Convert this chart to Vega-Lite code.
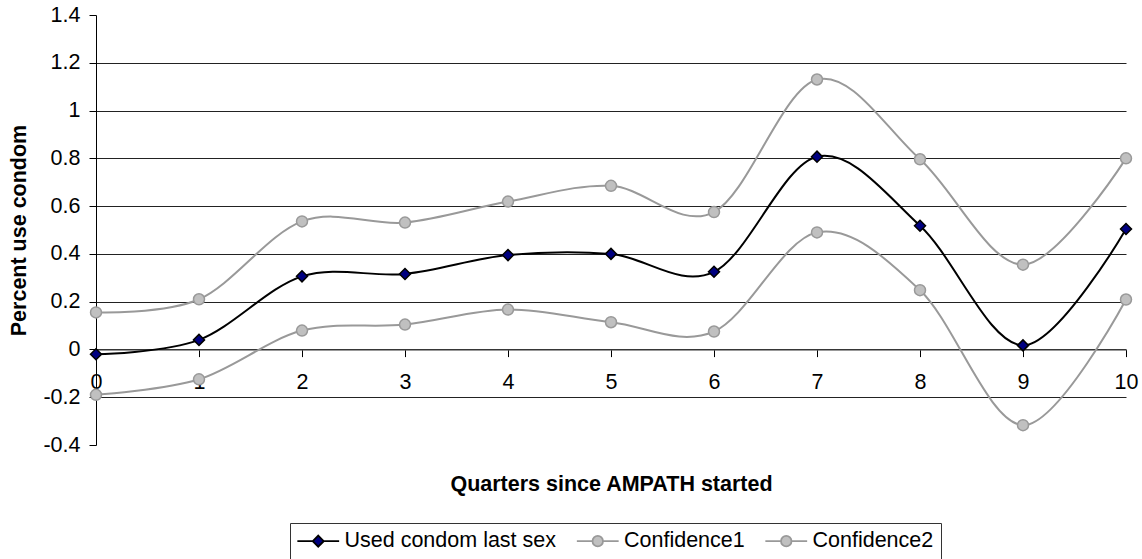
{
  "$schema": "https://vega.github.io/schema/vega-lite/v6.json",
  "width": 1030,
  "height": 430,
  "autosize": "none",
  "padding": {"left": 96, "top": 15, "right": 16, "bottom": 114},
  "background": "white",
  "config": {
    "view": {"stroke": null},
    "font": "Liberation Sans",
    "axis": {
      "labelFont": "Liberation Sans",
      "titleFont": "Liberation Sans",
      "labelFontSize": 21.5,
      "titleFontSize": 21.5,
      "labelColor": "#000",
      "titleColor": "#000",
      "titleFontWeight": "bold",
      "labelFlush": false,
      "labelOverlap": false
    },
    "legend": {
      "labelFont": "Liberation Sans",
      "labelFontSize": 21.5,
      "labelColor": "#000",
      "labelLimit": 500,
      "orient": "none",
      "direction": "horizontal",
      "legendX": 194,
      "legendY": 508,
      "padding": 7,
      "strokeColor": "#333",
      "symbolSize": 121,
      "symbolOffset": 10.5,
      "labelOffset": 15.5,
      "columnPadding": 15.5,
      "symbolStrokeWidth": 1.8,
      "symbolOpacity": 1
    }
  },
  "data": {
    "values": [
      {"q": 0, "series": "Used condom last sex", "value": -0.02},
      {"q": 1, "series": "Used condom last sex", "value": 0.04},
      {"q": 2, "series": "Used condom last sex", "value": 0.306},
      {"q": 3, "series": "Used condom last sex", "value": 0.316},
      {"q": 4, "series": "Used condom last sex", "value": 0.395},
      {"q": 5, "series": "Used condom last sex", "value": 0.4},
      {"q": 6, "series": "Used condom last sex", "value": 0.325},
      {"q": 7, "series": "Used condom last sex", "value": 0.807},
      {"q": 8, "series": "Used condom last sex", "value": 0.518},
      {"q": 9, "series": "Used condom last sex", "value": 0.017},
      {"q": 10, "series": "Used condom last sex", "value": 0.504},
      {"q": 0, "series": "Confidence1", "value": 0.155},
      {"q": 1, "series": "Confidence1", "value": 0.21},
      {"q": 2, "series": "Confidence1", "value": 0.536},
      {"q": 3, "series": "Confidence1", "value": 0.531},
      {"q": 4, "series": "Confidence1", "value": 0.619},
      {"q": 5, "series": "Confidence1", "value": 0.685},
      {"q": 6, "series": "Confidence1", "value": 0.575},
      {"q": 7, "series": "Confidence1", "value": 1.13},
      {"q": 8, "series": "Confidence1", "value": 0.796},
      {"q": 9, "series": "Confidence1", "value": 0.355},
      {"q": 10, "series": "Confidence1", "value": 0.8},
      {"q": 0, "series": "Confidence2", "value": -0.19},
      {"q": 1, "series": "Confidence2", "value": -0.125},
      {"q": 2, "series": "Confidence2", "value": 0.079},
      {"q": 3, "series": "Confidence2", "value": 0.104},
      {"q": 4, "series": "Confidence2", "value": 0.167},
      {"q": 5, "series": "Confidence2", "value": 0.114},
      {"q": 6, "series": "Confidence2", "value": 0.075},
      {"q": 7, "series": "Confidence2", "value": 0.49},
      {"q": 8, "series": "Confidence2", "value": 0.248},
      {"q": 9, "series": "Confidence2", "value": -0.317},
      {"q": 10, "series": "Confidence2", "value": 0.209}
    ]
  },
  "encoding": {
    "x": {
      "field": "q",
      "type": "quantitative",
      "scale": {"domain": [0, 10], "nice": false, "zero": false},
      "axis": {
        "values": [0, 1, 2, 3, 4, 5, 6, 7, 8, 9, 10],
        "format": "d",
        "offset": -95.4,
        "grid": false,
        "tickSize": 7,
        "tickColor": "#000",
        "domainColor": "#555",
        "labelPadding": 15,
        "title": "Quarters since AMPATH started",
        "titleBaseline": "top",
        "titleY": 124
      }
    },
    "y": {
      "field": "value",
      "type": "quantitative",
      "scale": {"domain": [-0.4, 1.4], "nice": false, "zero": false},
      "axis": {
        "values": [-0.4, -0.2, 0, 0.2, 0.4, 0.6, 0.8, 1, 1.2, 1.4],
        "labelExpr": "toString(round(datum.value*10)/10)",
        "tickSize": 7,
        "tickColor": "#000",
        "domainColor": "#000",
        "labelPadding": 9,
        "grid": true,
        "gridColor": "#222",
        "gridOpacity": {"condition": {"test": "datum.value > 1.3 || datum.value < -0.3", "value": 0}, "value": 1},
        "title": "Percent use condom",
        "titlePadding": 12
      }
    }
  },
  "layer": [
    {
      "mark": {"type": "line", "interpolate": "cardinal", "strokeWidth": 2},
      "encoding": {
        "detail": {"field": "series", "type": "nominal"},
        "stroke": {"condition": {"test": "datum.series === 'Used condom last sex'", "value": "#000000"}, "value": "#999999"}
      }
    },
    {
      "mark": {"type": "point", "filled": true, "size": 121, "strokeWidth": 1.5, "opacity": 1},
      "encoding": {
        "stroke": {"condition": {"test": "datum.series === 'Used condom last sex'", "value": "#000000"}, "value": "#999999"},
        "fill": {"condition": {"test": "datum.series === 'Used condom last sex'", "value": "#000080"}, "value": "#C0C0C0"},
        "shape": {"condition": {"test": "datum.series === 'Used condom last sex'", "value": "diamond"}, "value": "circle"}
      }
    },
    {
      "transform": [{"filter": "false"}],
      "mark": {"type": "point", "filled": true, "strokeWidth": 1.8, "opacity": 1},
      "encoding": {
        "shape": {
          "field": "series",
          "type": "nominal",
          "scale": {"domain": ["Used condom last sex", "Confidence1", "Confidence2"], "range": ["M-3.8,0L-1,0M1,0L3.8,0M0,-1L1,0L0,1L-1,0Z", "M-3.8,0L-0.95,0M0.95,0L3.8,0M0.95,0A0.95,0.95,0,1,1,-0.95,0A0.95,0.95,0,1,1,0.95,0Z", "M-3.8,0L-0.95,0M0.95,0L3.8,0M0.95,0A0.95,0.95,0,1,1,-0.95,0A0.95,0.95,0,1,1,0.95,0Z"]},
          "legend": {"title": null}
        },
        "fill": {
          "field": "series",
          "type": "nominal",
          "scale": {"domain": ["Used condom last sex", "Confidence1", "Confidence2"], "range": ["#000080", "#C0C0C0", "#C0C0C0"]},
          "legend": {"title": null}
        },
        "stroke": {
          "field": "series",
          "type": "nominal",
          "scale": {"domain": ["Used condom last sex", "Confidence1", "Confidence2"], "range": ["#000000", "#999999", "#999999"]},
          "legend": {"title": null}
        }
      }
    }
  ]
}
